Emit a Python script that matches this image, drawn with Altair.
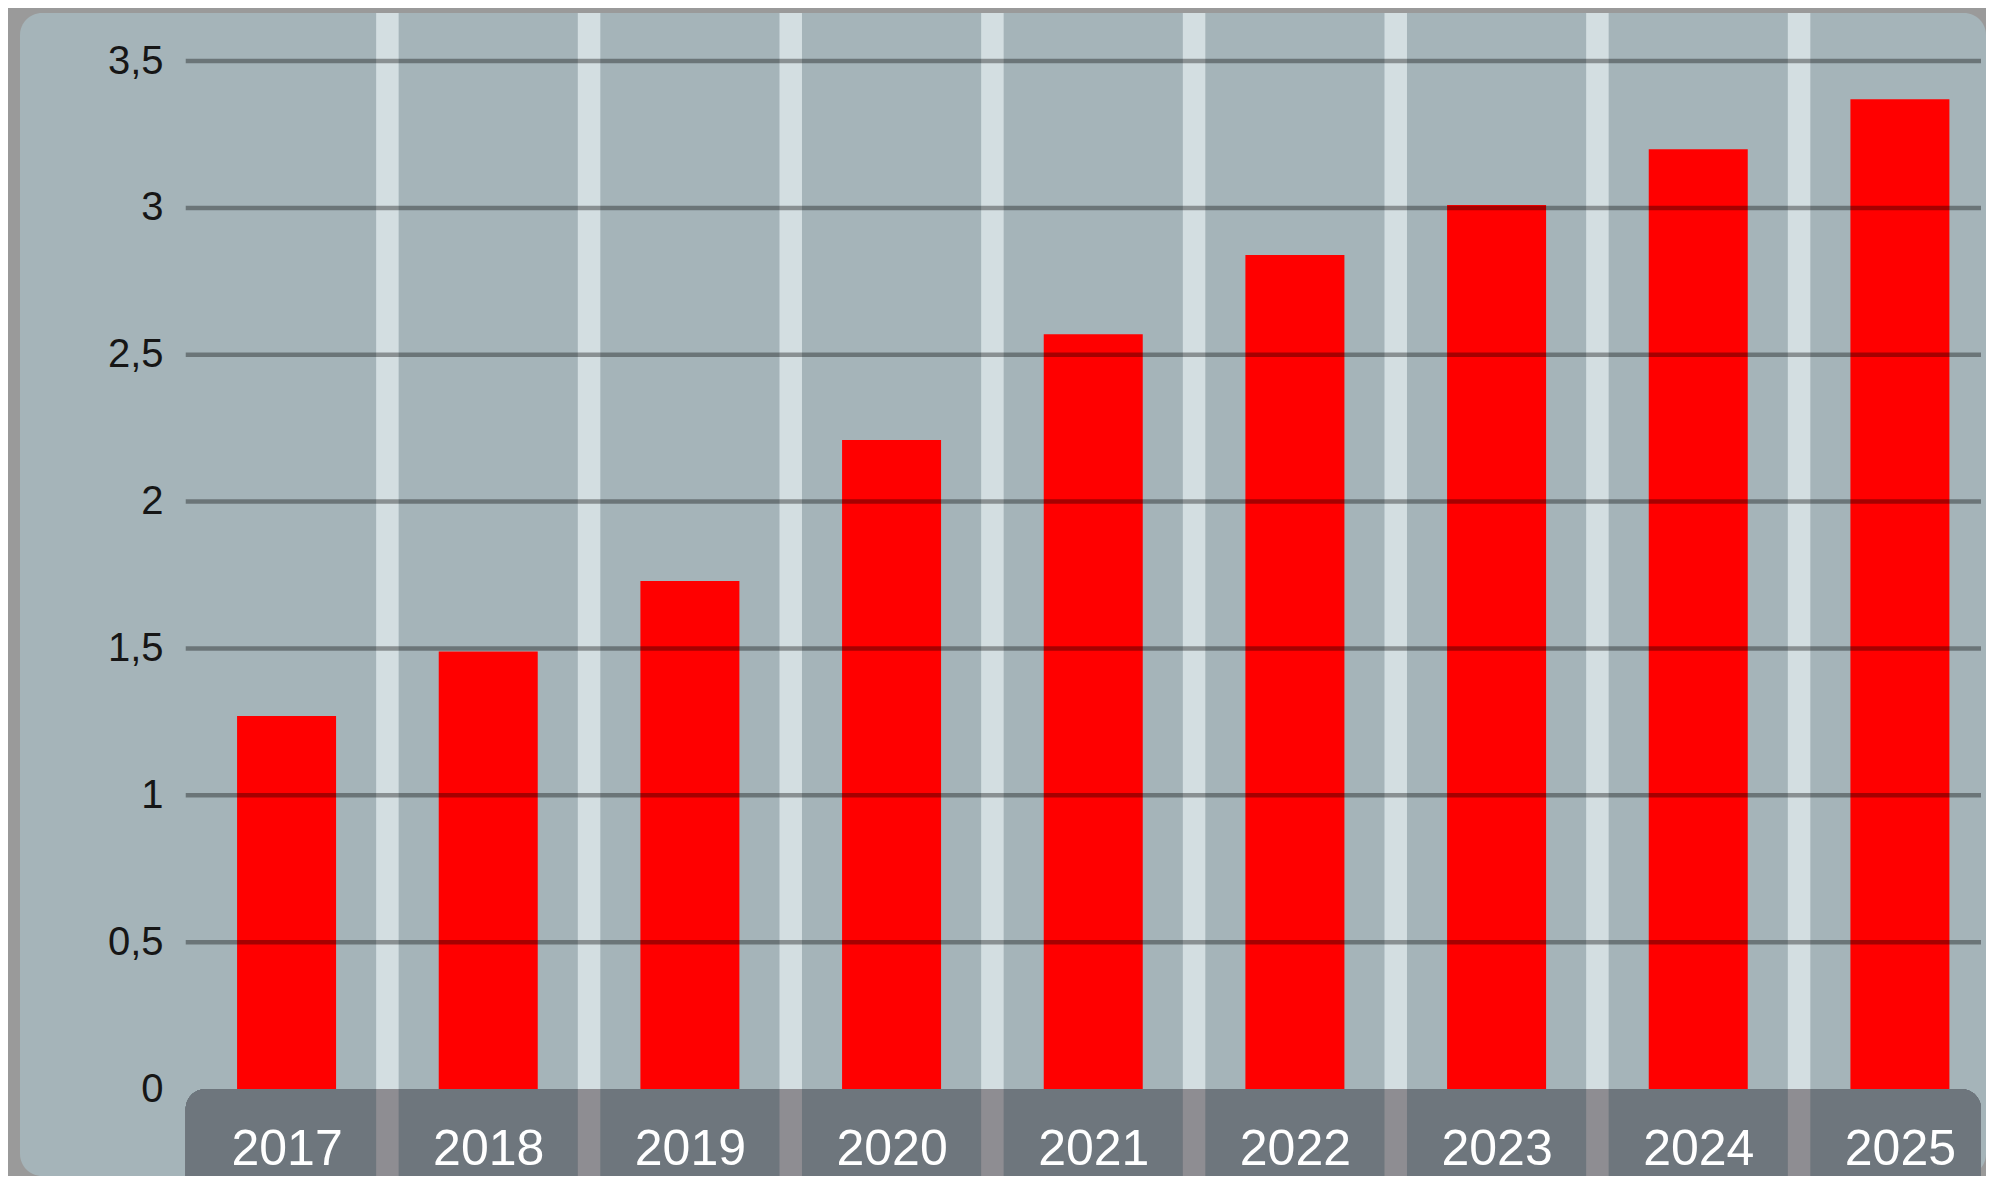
import altair as alt
import pandas as pd

# ---- data ----
years = [2017, 2018, 2019, 2020, 2021, 2022, 2023, 2024, 2025]
values = [1.27, 1.49, 1.73, 2.21, 2.57, 2.84, 3.01, 3.20, 3.37]
y_ticks = [0, 0.5, 1, 1.5, 2, 2.5, 3, 3.5]

bars_df = pd.DataFrame({"year": years, "value": values})
sep_df = pd.DataFrame({"pos": [y + 0.5 for y in years[:-1]]})
grid_df = pd.DataFrame({"v": [t for t in y_ticks if t > 0]})

# ---- layout ----
W, H = 1966, 1163
STEP = 202.7  # px per year
X0 = years[0] - (282.9 - 20) / STEP
X_DOMAIN = [X0, X0 + W / STEP]
PX_PER_UNIT = 293.7
Y_ZERO = 1076  # px from view top
Y_DOMAIN = [-(H - Y_ZERO) / PX_PER_UNIT, Y_ZERO / PX_PER_UNIT]
FIRST_EDGE = years[0] - 0.5

FONT = "Liberation Sans"

x_scale = alt.Scale(domain=X_DOMAIN, nice=False, zero=False)
y_scale = alt.Scale(domain=Y_DOMAIN, nice=False, zero=False)

x_axis = alt.Axis(
    values=years, format="d", grid=False, ticks=False, domain=False,
    labelFontSize=50, labelColor="white", labelFont=FONT, labelPadding=0,
    labelBaseline="alphabetic", offset=-12, title=None, labelFlush=False,
    labelOverlap=False, zindex=2,
)
y_axis = alt.Axis(
    values=y_ticks, grid=False, ticks=False, domain=False,
    labelFontSize=40, labelColor="#161616", labelFont=FONT, labelPadding=0,
    labelExpr="replace(toString(datum.value), '.', ',')",
    offset=-143, title=None, labelOverlap=False, zindex=2,
)

stripes = alt.Chart(sep_df).mark_rule(color="#d3dee1", strokeWidth=22.5).encode(
    x=alt.X("pos:Q", scale=x_scale, axis=x_axis),
    y=alt.Y(datum=Y_DOMAIN[1], scale=y_scale, axis=y_axis),
    y2=alt.Y2(datum=0),
)

bars = alt.Chart(bars_df).mark_bar(color="#ff0000", size=99).encode(
    x=alt.X("year:Q", scale=x_scale, axis=x_axis),
    y=alt.Y("value:Q", scale=y_scale, axis=y_axis),
    y2=alt.Y2(datum=0),
)

grid = alt.Chart(grid_df).mark_rule(color="black", opacity=0.35, strokeWidth=4.5).encode(
    x=alt.X(datum=FIRST_EDGE, scale=x_scale, axis=x_axis),
    x2=alt.X2(datum=X_DOMAIN[1]),
    y=alt.Y("v:Q", scale=y_scale, axis=y_axis),
)

band = alt.Chart(bars_df).mark_rect(
    color="#6e767d", cornerRadiusTopLeft=20, cornerRadiusTopRight=20
).encode(
    x=alt.X(datum=FIRST_EDGE, scale=x_scale, axis=x_axis),
    x2=alt.X2(datum=X_DOMAIN[1]),
    y=alt.Y(datum=0, scale=y_scale, axis=y_axis),
    y2=alt.Y2(datum=Y_DOMAIN[0]),
)

band_sep = alt.Chart(sep_df).mark_rule(color="#8e8d92", strokeWidth=22.5).encode(
    x=alt.X("pos:Q", scale=x_scale, axis=x_axis),
    y=alt.Y(datum=0, scale=y_scale, axis=y_axis),
    y2=alt.Y2(datum=Y_DOMAIN[0]),
)

chart = (
    alt.layer(stripes, bars, grid, band, band_sep)
    .properties(
        width=W, height=H,
        padding={"left": 12, "top": 5, "right": 0, "bottom": 0},
        autosize=alt.AutoSizeParams(type="none"),
        background="#9a9a9a",
    )
    .configure_view(fill="#a5b4b9", strokeWidth=0, cornerRadius=22)
)

chart.save("out.html", embed_options={"renderer": "svg", "actions": False})
